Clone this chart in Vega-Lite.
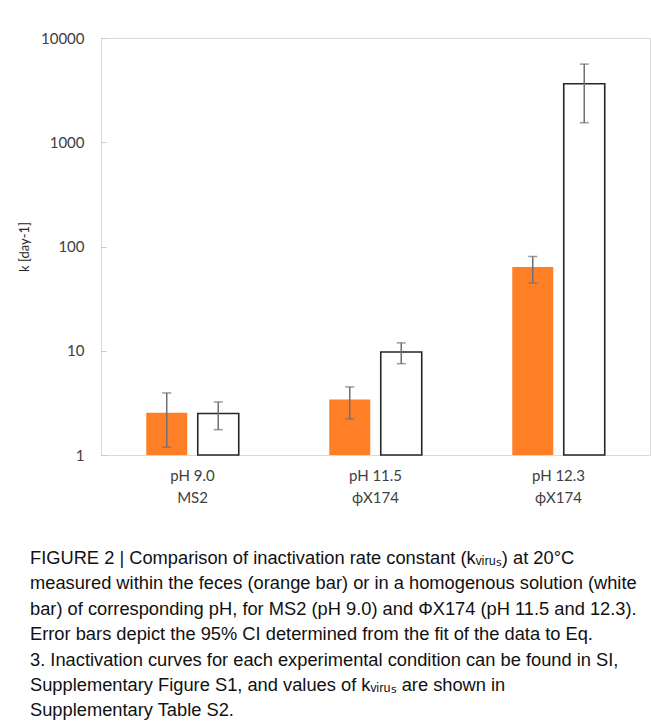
{
  "$schema": "https://vega.github.io/schema/vega-lite/v6.json",
  "width": 549,
  "height": 417,
  "autosize": {"type": "none"},
  "padding": {"left": 101, "top": 38, "right": 1, "bottom": 271},
  "background": "white",
  "config": {"view": {"stroke": "#d9d9d9", "strokeWidth": 1}},
  "title": {
    "text": [
      "FIGURE 2 | Comparison of inactivation rate constant (kᵥᵢᵣᵤₛ) at 20°C",
      "measured within the feces (orange bar) or in a homogenous solution (white",
      "bar) of corresponding pH, for MS2 (pH 9.0) and ΦX174 (pH 11.5 and 12.3).",
      "Error bars depict the 95% CI determined from the fit of the data to Eq.",
      "3. Inactivation curves for each experimental condition can be found in SI,",
      "Supplementary Figure S1, and values of kᵥᵢᵣᵤₛ are shown in",
      "Supplementary Table S2."
    ],
    "orient": "bottom",
    "anchor": "start",
    "frame": "group",
    "dx": -71,
    "offset": 45,
    "font": "Liberation Sans",
    "fontSize": 18.3,
    "fontWeight": "normal",
    "lineHeight": 25.4,
    "color": "#111111",
    "limit": 0
  },
  "data": {
    "values": [
      {"cond": "pH 9.0|MS2", "medium": "feces", "k": 2.54, "lo": 1.19, "hi": 3.94},
      {"cond": "pH 9.0|MS2", "medium": "solution", "k": 2.5, "lo": 1.75, "hi": 3.23},
      {"cond": "pH 11.5|ϕX174", "medium": "feces", "k": 3.4, "lo": 2.22, "hi": 4.5},
      {"cond": "pH 11.5|ϕX174", "medium": "solution", "k": 9.74, "lo": 7.52, "hi": 11.9},
      {"cond": "pH 12.3|ϕX174", "medium": "feces", "k": 63.5, "lo": 44.6, "hi": 80.2},
      {"cond": "pH 12.3|ϕX174", "medium": "solution", "k": 3640, "lo": 1540, "hi": 5620}
    ]
  },
  "encoding": {
    "x": {
      "field": "cond",
      "type": "nominal",
      "sort": null,
      "scale": {"paddingInner": 0, "paddingOuter": 0},
      "axis": {
        "title": null,
        "labelAngle": 0,
        "labelExpr": "split(datum.label, '|')",
        "domain": false,
        "ticks": false,
        "labelPadding": 13,
        "labelFont": "Lato",
        "labelFontSize": 15,
        "labelLineHeight": 22,
        "labelColor": "#404040",
        "labelBaseline": "top"
      }
    },
    "xOffset": {
      "field": "medium",
      "type": "nominal",
      "sort": ["feces", "solution"],
      "scale": {"paddingInner": 0.204, "paddingOuter": 0.879}
    }
  },
  "layer": [
    {
      "mark": {"type": "bar", "strokeWidth": 1.6},
      "encoding": {
        "y": {
          "field": "k",
          "type": "quantitative",
          "scale": {"type": "log", "domain": [1, 10000], "nice": false},
          "axis": {
            "values": [1, 10, 100, 1000, 10000],
            "format": "d",
            "grid": false,
            "domain": false,
            "tickColor": "#c8c8c8",
            "tickSize": -5,
            "labelPadding": 22,
            "labelFont": "Lato",
            "labelFontSize": 15,
            "labelColor": "#404040",
            "title": "k [day-1]",
            "titleFont": "Lato",
            "titleFontSize": 13,
            "titleFontWeight": "normal",
            "titleColor": "#262626",
            "titlePadding": 9
          }
        },
        "y2": {"datum": 1},
        "fill": {
          "field": "medium",
          "type": "nominal",
          "scale": {"domain": ["feces", "solution"], "range": ["#FF7F27", "#FFFFFF"]},
          "legend": null
        },
        "stroke": {
          "field": "medium",
          "type": "nominal",
          "scale": {"domain": ["feces", "solution"], "range": ["transparent", "#262626"]},
          "legend": null
        }
      }
    },
    {
      "mark": {"type": "rule", "color": "#707070", "strokeWidth": 1.5},
      "encoding": {
        "y": {"field": "lo", "type": "quantitative"},
        "y2": {"field": "hi"}
      }
    },
    {
      "mark": {"type": "tick", "color": "#707070", "size": 9, "thickness": 1.5},
      "encoding": {
        "y": {"field": "lo", "type": "quantitative"}
      }
    },
    {
      "mark": {"type": "tick", "color": "#707070", "size": 9, "thickness": 1.5},
      "encoding": {
        "y": {"field": "hi", "type": "quantitative"}
      }
    }
  ]
}
